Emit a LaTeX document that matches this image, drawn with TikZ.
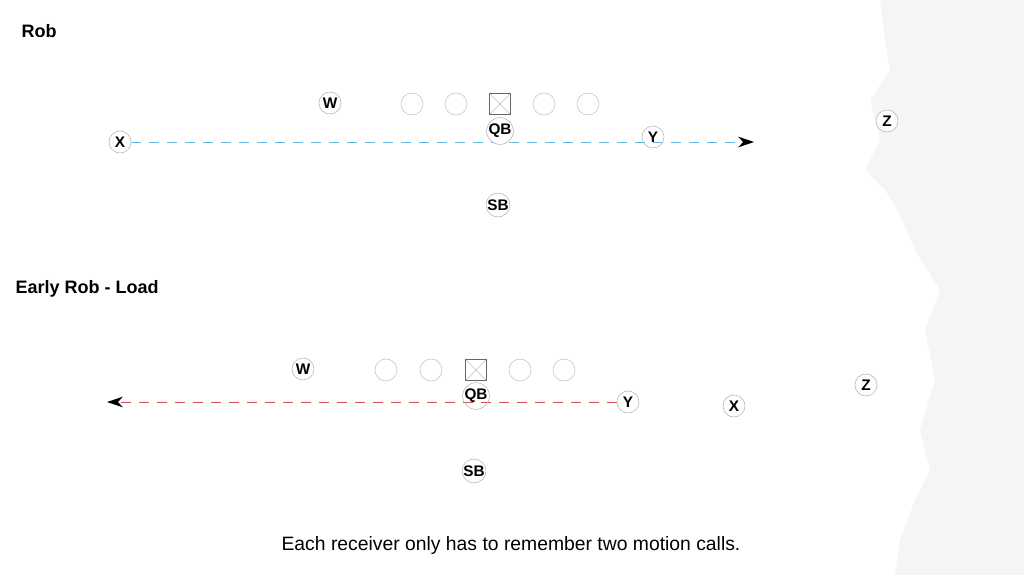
\documentclass[tikz,border=0pt]{standalone}
\usepackage{fontspec}
\setmainfont{Liberation Sans}
\usetikzlibrary{arrows.meta}
\definecolor{robblue}{RGB}{100,185,225}
\definecolor{rd}{RGB}{215,80,90}
\begin{document}
\begin{tikzpicture}[x=0.75pt,y=-0.75pt,
  pl/.style={circle,draw=gray!60,fill=white,minimum size=16.5pt,inner sep=0pt,font=\bfseries\fontsize{11.5}{13}\selectfont},
  ln/.style={circle,draw=gray!50,minimum size=16.5pt,inner sep=0pt},
  ctr/.style={rectangle,draw=gray!80!black,minimum size=16pt,inner sep=0pt,path picture={\draw[gray!50] (path picture bounding box.south west)--(path picture bounding box.north east) (path picture bounding box.north west)--(path picture bounding box.south east);}},
  ttl/.style={anchor=west,font=\bfseries\fontsize{13.5}{15}\selectfont},
  rt/.style={dashed,dash pattern=on 7.5pt off 6pt,line width=0.75pt,-{Stealth[length=12pt,width=8pt,black]}}]
\useasboundingbox (0,0) rectangle (1024,575);
\fill[gray!8] (880,0) -- (1024,0) -- (1024,575) -- (895,575) -- (900,540) -- (915,500) -- (930,470) -- (920,430) -- (935,380) -- (925,330) -- (940,290) -- (915,250) -- (900,215) -- (885,190) -- (865,170) -- (880,140) -- (870,100) -- (890,70) -- (885,40) -- cycle;
\node[ttl] (t1) at (17,31) {Rob};
\node[ttl] (t2) at (11,289) {Early Rob - Load};
% top
\foreach \n/\x in {a/412,b/456,c/544,d/588} \node[ln] (l1\n) at (\x,104) {};
\node[ctr] (c1) at (500,104) {};
\node[pl] (W1) at (330,103) {W};
\node[pl] (X1) at (120,142) {X};
\node[pl] (Z1) at (887,121) {Z};
\node[pl] (SB1) at (498,205) {SB};
\coordinate (e1) at (754,142);
\draw[rt,draw=robblue] (X1.east) -- (e1);
\node[pl] (QB1) at (500,131) {QB};
\node[pl,fill=none] (Y1) at (653,137) {Y};
% bottom
\foreach \n/\x in {a/386,b/431,c/520,d/564} \node[ln] (l2\n) at (\x,370) {};
\node[ctr] (c2) at (476,370) {};
\node[pl] (W2) at (303,369) {W};
\node[pl] (X2) at (734,406) {X};
\node[pl] (Z2) at (866,385) {Z};
\node[pl] (SB2) at (474,471) {SB};
\node[pl] (Y2) at (628,402) {Y};
\coordinate (e2) at (107,402);
\draw[rt,draw=rd] (Y2.west) -- (e2);
\node[pl,fill=none] (QB2) at (476,396) {QB};
\node[font=\fontsize{14.5}{17}\selectfont] (cap) at (511,545) {Each receiver only has to remember two motion calls.};
\end{tikzpicture}
\end{document}
